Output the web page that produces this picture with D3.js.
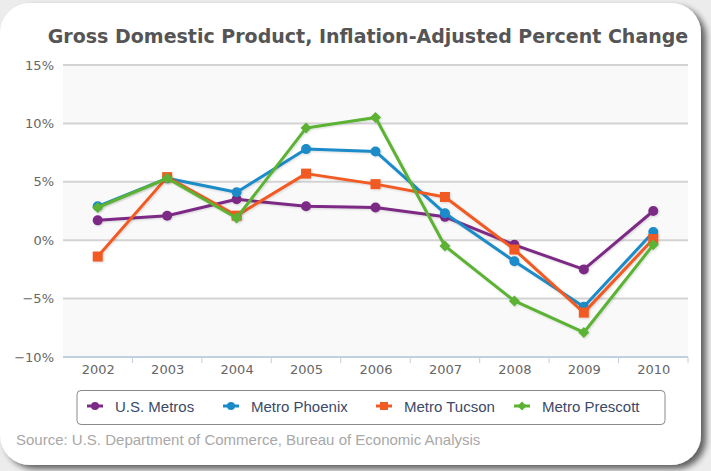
<!DOCTYPE html>
<html><head><meta charset="utf-8">
<script src="https://cdn.jsdelivr.net/npm/d3@7"></script>
<style>html,body{margin:0;padding:0;background:#ececec;}svg{display:block;}</style>
</head><body>
<script>
const years = ["2002","2003","2004","2005","2006","2007","2008","2009","2010"];
const usMetros     = [1.7, 2.1, 3.5, 2.9, 2.8, 2.0, -0.4, -2.5, 2.5];
const metroPhoenix = [2.9, 5.3, 4.1, 7.8, 7.6, 2.3, -1.8, -5.7, 0.7];
const metroTucson  = [-1.4, 5.4, 2.1, 5.7, 4.8, 3.7, -0.8, -6.2, 0.1];
const metroPrescott= [2.8, 5.3, 1.9, 9.6, 10.5, -0.5, -5.2, -7.9, -0.4];
const yTicks = [-10, -5, 0, 5, 10, 15];
const seriesNames = ["U.S. Metros","Metro Phoenix","Metro Tucson","Metro Prescott"];
const seriesColors = ["#7d2a86","#1a8bc8","#f15a22","#5bb233"];
const seriesShapes = ["circle","circle","square","diamond"];
const seriesData = [usMetros, metroPhoenix, metroTucson, metroPrescott];

(function () {
const W = 711, H = 471;
const svg = d3.select("body").append("svg").attr("width", W).attr("height", H);
const defs = svg.append("defs");
const f = defs.append("filter").attr("id","sh").attr("x","-5%").attr("y","-5%").attr("width","115%").attr("height","115%");
f.append("feGaussianBlur").attr("in","SourceAlpha").attr("stdDeviation",3);
f.append("feOffset").attr("dx",5).attr("dy",4).attr("result","o");
f.append("feComponentTransfer").append("feFuncA").attr("type","linear").attr("slope",0.6);
const m = f.append("feMerge"); m.append("feMergeNode"); m.append("feMergeNode").attr("in","SourceGraphic");

const lf = defs.append("filter").attr("id","lsh").attr("x","-10%").attr("y","-10%").attr("width","120%").attr("height","120%");
lf.append("feGaussianBlur").attr("in","SourceAlpha").attr("stdDeviation",1);
lf.append("feOffset").attr("dx",1).attr("dy",1).attr("result","o");
lf.append("feComponentTransfer").append("feFuncA").attr("type","linear").attr("slope",0.15);
const lm = lf.append("feMerge"); lm.append("feMergeNode"); lm.append("feMergeNode").attr("in","SourceGraphic");

// card
svg.append("rect").attr("x",0).attr("y",3).attr("width",701).attr("height",462).attr("rx",30).attr("ry",30)
  .attr("fill","#fff").attr("filter","url(#sh)");

const pLeft = 63, pRight = 688, pTop = 65, pBottom = 357;
const x = d3.scalePoint().domain(years).range([pLeft, pRight]).padding(0.5);
const y = d3.scaleLinear().domain([-10, 15]).range([pBottom, pTop]);

// bands
const g = svg.append("g");
for (let i = 0; i < yTicks.length - 1; i++) {
  if (i % 2 === 0) {
    g.append("rect").attr("x", pLeft).attr("width", pRight - pLeft)
      .attr("y", y(yTicks[i+1])).attr("height", y(yTicks[i]) - y(yTicks[i+1])).attr("fill", "#f9f9f9");
  }
}
// gridlines
g.selectAll("line.grid").data(yTicks.filter(t => t > -10)).join("line").attr("class","grid")
  .attr("x1", pLeft).attr("x2", pRight).attr("y1", d => y(d)).attr("y2", d => y(d))
  .attr("stroke", "#d3d3d3").attr("stroke-width", 2);

// y axis labels
const yAxis = d3.axisLeft(y).tickValues(yTicks).tickSize(0).tickPadding(0)
  .tickFormat(d => (d < 0 ? "\u2212" + Math.abs(d) : d) + "%");
const ya = svg.append("g").attr("transform", `translate(${pLeft-9},0)`).call(yAxis);
ya.select(".domain").remove();
ya.selectAll("text").attr("font-family","DejaVu Sans").attr("font-size",13).attr("fill","#666");

// x axis
const xAxis = d3.axisBottom(x).tickSize(0).tickPadding(8);
const xa = svg.append("g").attr("transform", `translate(0,${pBottom})`).call(xAxis);
xa.select(".domain").attr("stroke","#c0d0e0").attr("stroke-width",2).attr("d", `M${pLeft},0H${pRight}`);
xa.selectAll("text").attr("font-family","DejaVu Sans").attr("font-size",13).attr("fill","#666");
const step = x.step();
const bounds = d3.range(years.length + 1).map(i => pLeft + i * step);
xa.selectAll("line.bt").data(bounds.slice(1)).join("line").attr("class","bt")
  .attr("x1", d => d).attr("x2", d => d).attr("y1", 0).attr("y2", 6)
  .attr("stroke", "#c0d0e0").attr("stroke-width", 1);

// title
svg.append("text").attr("x", 368).attr("y", 43).attr("text-anchor","middle")
  .attr("font-family","DejaVu Sans").attr("font-weight","bold").attr("font-size",19)
  .attr("fill","#555").text("Gross Domestic Product, Inflation-Adjusted Percent Change");

function marker(sel, shape, color, size) {
  if (shape === "circle") sel.append("circle").attr("r", size/2).attr("fill", color);
  else if (shape === "square") sel.append("rect").attr("x", -size/2).attr("y", -size/2).attr("width", size).attr("height", size).attr("fill", color);
  else sel.append("path").attr("d", `M0,${-size/2}L${size/2},0L0,${size/2}L${-size/2},0Z`).attr("fill", color);
}

const line = d3.line().x((d,i) => x(years[i])).y(d => y(d));
seriesData.forEach((data, si) => {
  const sg = svg.append("g").attr("filter","url(#lsh)");
  sg.append("path").datum(data).attr("d", line).attr("fill","none")
    .attr("stroke", seriesColors[si]).attr("stroke-width", 3).attr("stroke-linejoin","round");
  data.forEach((v, i) => {
    const mg = sg.append("g").attr("transform", `translate(${x(years[i])},${y(v)})`);
    marker(mg, seriesShapes[si], seriesColors[si], seriesShapes[si] === "diamond" ? 11 : 10);
  });
});

// legend
svg.append("rect").attr("x", 77).attr("y", 390.5).attr("width", 588).attr("height", 34).attr("rx", 4)
  .attr("fill","#fff").attr("stroke","#8a8a8a").attr("stroke-width",1);
const legX = [87, 223, 376, 514];
seriesNames.forEach((name, si) => {
  const lg = svg.append("g").attr("transform", `translate(${legX[si]},406)`);
  lg.append("line").attr("x1",0).attr("x2",16).attr("stroke",seriesColors[si]).attr("stroke-width",3);
  const mg = lg.append("g").attr("transform","translate(8,0)");
  marker(mg, seriesShapes[si], seriesColors[si], seriesShapes[si] === "diamond" ? 9 : 8);
  lg.append("text").attr("x", 28).attr("y", 5.5).attr("font-family","Liberation Sans").attr("font-size",15)
    .attr("fill","#3b4a68").text(name);
});

// source
svg.append("text").attr("x", 16).attr("y", 445).attr("font-family","Liberation Sans").attr("font-size",15)
  .attr("fill","#a8a8a8").text("Source: U.S. Department of Commerce, Bureau of Economic Analysis");
})();
</script>
</body></html>
